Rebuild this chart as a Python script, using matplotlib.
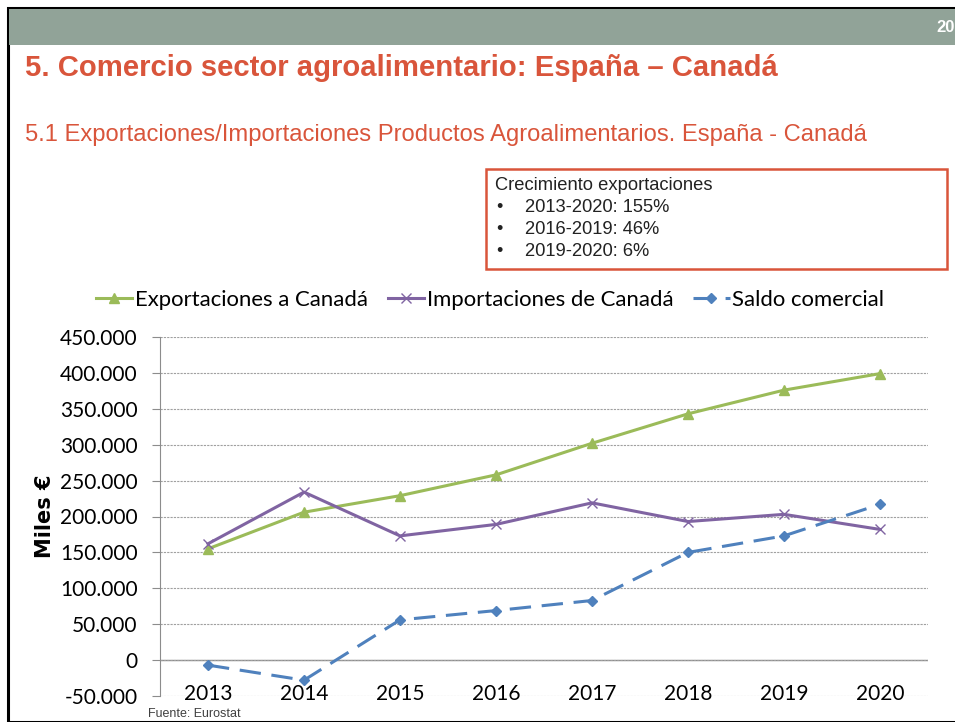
import matplotlib.pyplot as plt
from matplotlib.patches import Rectangle
from matplotlib.ticker import FuncFormatter

# Datos (miles de euros)
years = ['2013', '2014', '2015', '2016', '2017', '2018', '2019', '2020']
exportaciones = [155000, 206000, 229000, 258000, 302000, 343000, 376000, 399000]
importaciones = [162000, 234000, 173000, 189000, 219000, 193000, 203000, 182000]
saldo = [-7000, -28000, 56000, 69000, 83000, 150000, 173000, 217000]

y_ticks = list(range(-50000, 450001, 50000))
box_lines = ['2013-2020: 155%', '2016-2019: 46%', '2019-2020: 6%']

red = '#D9553B'
green = '#9BBB59'
purple = '#8064A2'
blue = '#4F81BD'

fig = plt.figure(figsize=(9.55, 7.22), dpi=100)
W, H = 955, 722


def fx(px):
    return px / W


def fy(py):
    return 1 - py / H


# marco de la diapositiva
fig.patches.append(Rectangle((fx(8), fy(722)), fx(960), fy(8) - fy(722), transform=fig.transFigure,
                             facecolor='none', edgecolor='black', linewidth=2.2))
fig.patches.append(Rectangle((fx(9), fy(45)), fx(950), fy(9) - fy(45), transform=fig.transFigure,
                             facecolor='#91A398', edgecolor='none'))
fig.text(fx(936), fy(27), '20', color='white', fontsize=12, fontweight='bold',
         family='Liberation Sans', va='center', ha='left')

fig.text(fx(25), fy(68), '5. Comercio sector agroalimentario: España – Canadá', color=red,
         fontsize=21.1, fontweight='bold', family='Liberation Sans', va='center', ha='left')
fig.text(fx(25), fy(135), '5.1 Exportaciones/Importaciones Productos Agroalimentarios. España - Canadá',
         color=red, fontsize=17.1, family='Liberation Sans', va='center', ha='left')

# recuadro de crecimiento
fig.patches.append(Rectangle((fx(486), fy(269)), fx(947 - 486), fy(169) - fy(269), transform=fig.transFigure,
                             facecolor='white', edgecolor=red, linewidth=1.8))
fig.text(fx(495), fy(185), 'Crecimiento exportaciones', fontsize=13.2, color='#222222',
         family='Liberation Sans', va='center')
for i, line in enumerate(box_lines):
    yy = fy(208 + i * 21.5)
    fig.text(fx(496), yy, '•', fontsize=13, color='#222222', family='Liberation Sans', va='center')
    fig.text(fx(525), yy, line, fontsize=13.2, color='#222222', family='Liberation Sans', va='center')

ax = fig.add_axes([fx(160), fy(696), fx(928 - 160), fy(337) - fy(696)])
x = range(len(years))
ax.plot(x, exportaciones, color=green, lw=2.2, marker='^', ms=7.5, label='Exportaciones a Canadá')
ax.plot(x, importaciones, color=purple, lw=2.2, marker='x', ms=7, mew=1.0, label='Importaciones de Canadá')
ax.plot(x, saldo, color=blue, lw=2.2, marker='D', ms=5.5, dashes=(7, 3.5), label='Saldo comercial')

ax.set_xlim(-0.5, len(years) - 0.5)
ax.set_ylim(-50000, 450000)
ax.set_yticks(y_ticks)
ax.yaxis.set_major_formatter(FuncFormatter(lambda v, p: f'{int(v):,}'.replace(',', '.')))
ax.set_xticks(list(x))
ax.set_xticklabels(years)
ax.grid(axis='y', color='#A0A0A0', linestyle=(0, (2, 1)), linewidth=0.8)
ax.axhline(0, color='#8C8C8C', linewidth=1.0, zorder=1.5)
for s in ['top', 'right', 'bottom']:
    ax.spines[s].set_visible(False)
ax.spines['left'].set_color('#8C8C8C')
ax.tick_params(axis='y', length=6, color='#8C8C8C', labelsize=15, pad=10)
ax.tick_params(axis='x', length=0, labelsize=15, pad=-9)
for lab in ax.get_xticklabels() + ax.get_yticklabels():
    lab.set_family('Lato')
ax.set_ylabel('Miles €', fontsize=15, fontweight='bold', family='DejaVu Sans', labelpad=4)

leg = fig.legend(loc='center', bbox_to_anchor=(fx(490), fy(300)), ncol=3, frameon=False,
                 prop={'family': 'Lato', 'size': 15.9}, handlelength=1.65, handletextpad=0.12,
                 columnspacing=0.9)

fig.text(fx(148), fy(714), 'Fuente: Eurostat', fontsize=9, color='#404040',
         family='Liberation Sans', va='center')

fig.savefig('out.png', dpi=100)
